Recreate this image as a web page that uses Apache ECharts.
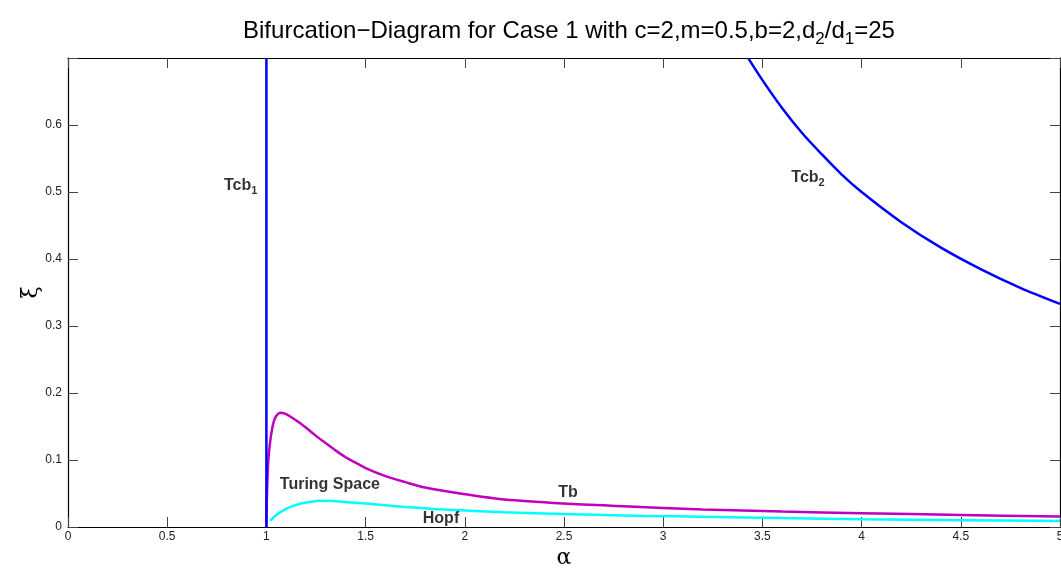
<!DOCTYPE html>
<html>
<head>
<meta charset="utf-8">
<script src="https://cdn.jsdelivr.net/npm/echarts@6/dist/echarts.min.js"></script>
<style>
  html, body { margin: 0; padding: 0; background: #fff; overflow: hidden; }
  #chart { width: 1061px; height: 572px; }
</style>
</head>
<body>
<div id="chart"></div>
<script>
// Tcb1: vertical Turing-codimension boundary at alpha = 1
const tcb1Alpha = [1.0, 1.0];
const tcb1Xi = [0.0, 0.7];

// Tcb2: upper boundary branch
const tcb2Alpha = [3.43, 3.5, 3.6, 3.7, 3.8, 3.9, 4.0, 4.2, 4.4, 4.6, 4.8, 5.0];
const tcb2Xi = [0.699, 0.667, 0.625, 0.588, 0.556, 0.526, 0.500, 0.455, 0.417, 0.385, 0.357, 0.333];

// Tb: Turing bifurcation curve
const tbAlpha = [1.0, 1.003, 1.01, 1.02, 1.035, 1.05, 1.07, 1.09, 1.12, 1.16, 1.2, 1.25, 1.3, 1.35, 1.4, 1.45, 1.5, 1.6, 1.7, 1.8, 2.0, 2.2, 2.5, 2.8, 3.2, 3.6, 4.0, 4.5, 5.0];
const tbXi = [0.0, 0.05, 0.10, 0.13, 0.155, 0.166, 0.1706, 0.1695, 0.165, 0.157, 0.148, 0.136, 0.125, 0.114, 0.104, 0.096, 0.088, 0.076, 0.067, 0.059, 0.049, 0.041, 0.035, 0.031, 0.0262, 0.023, 0.0205, 0.018, 0.0155];

// Hopf bifurcation curve
const hopfAlpha = [1.02, 1.05, 1.1, 1.15, 1.2, 1.27, 1.35, 1.5, 1.7, 1.9, 2.2, 2.5, 2.9, 3.2, 3.6, 4.0, 4.5, 5.0];
const hopfXi = [0.0095, 0.018, 0.027, 0.033, 0.0365, 0.039, 0.0385, 0.035, 0.030, 0.026, 0.022, 0.0195, 0.0165, 0.0154, 0.0133, 0.0115, 0.0102, 0.009];

// Curve annotations: [alpha, xi, text]
const annotations = [
  [0.87, 0.51, '{b|Tcb}{s|1}'],
  [3.73, 0.522, '{b|Tcb}{s|2}'],
  [1.32, 0.064, '{b|Turing Space}'],
  [2.52, 0.052, '{b|Tb}'],
  [1.88, 0.013, '{b|Hopf}']
];

// Axis ranges and tick spacing
const xMin = 0, xMax = 5, xStep = 0.5;
const yMin = 0, yMax = 0.7, yStep = 0.1;

const zip = (a, b) => a.map((v, i) => [v, b[i]]);
const FONT = '"Liberation Sans", Arial, Helvetica, sans-serif';

const chart = echarts.init(document.getElementById('chart'), null, { renderer: 'canvas' });

const tickStyle = { show: true, inside: true, length: 10, lineStyle: { color: '#444', width: 1 } };
const lineStyleAxis = { show: true, onZero: false, lineStyle: { color: '#000', width: 1.2 } };

chart.setOption({
  animation: false,
  backgroundColor: '#fff',
  title: {
    text: 'Bifurcation\u2212Diagram for Case 1 with c=2,m=0.5,b=2,d{s|2}/d{s|1}=25',
    left: 564,
    top: 10,
    textAlign: 'center',
    textStyle: {
      fontFamily: FONT,
      fontSize: 24,
      fontWeight: 'normal',
      color: '#000',
      rich: {
        s: { fontFamily: FONT, fontSize: 17, color: '#000', padding: [16, 0, 0, 0] }
      }
    }
  },
  grid: { left: 68, right: 1, top: 58, bottom: 45, containLabel: false, outerBoundsMode: 'none' },
  xAxis: [
    {
      type: 'value', min: xMin, max: xMax, interval: xStep,
      position: 'bottom',
      name: '\u03b1', nameLocation: 'middle', nameGap: 20, nameMoveOverlap: false,
      nameTextStyle: { fontFamily: 'DejaVu Serif, serif', fontSize: 22, color: '#000' },
      axisLine: lineStyleAxis,
      axisTick: tickStyle,
      splitLine: { show: false },
      axisLabel: { fontFamily: FONT, fontSize: 12, color: '#222', margin: 4 }
    },
    {
      type: 'value', min: xMin, max: xMax, interval: xStep,
      position: 'top',
      axisLine: lineStyleAxis,
      axisTick: tickStyle,
      splitLine: { show: false },
      axisLabel: { show: false }
    }
  ],
  yAxis: [
    {
      type: 'value', min: yMin, max: yMax, interval: yStep,
      position: 'left',
      name: '\u03be', nameLocation: 'middle', nameGap: 26, nameRotate: 90, nameMoveOverlap: false,
      nameTextStyle: { fontFamily: 'DejaVu Serif, serif', fontSize: 22, color: '#000' },
      axisLine: lineStyleAxis,
      axisTick: tickStyle,
      splitLine: { show: false },
      axisLabel: {
        fontFamily: FONT, fontSize: 12, color: '#222', margin: 6,
        formatter: v => (Math.abs(v - yMax) < 1e-9 ? '' : String(+v.toFixed(1)))
      }
    },
    {
      type: 'value', min: yMin, max: yMax, interval: yStep,
      position: 'right',
      axisLine: lineStyleAxis,
      axisTick: tickStyle,
      splitLine: { show: false },
      axisLabel: { show: false }
    }
  ],
  series: [
    {
      name: 'Tcb1', type: 'line', data: zip(tcb1Alpha, tcb1Xi),
      showSymbol: false, lineStyle: { color: '#0000ff', width: 2.5 }, z: 3
    },
    {
      name: 'Tcb2', type: 'line', data: zip(tcb2Alpha, tcb2Xi),
      smooth: 0.3,
      showSymbol: false, lineStyle: { color: '#0000ff', width: 2.5 }, z: 3
    },
    {
      name: 'Tb', type: 'line', data: zip(tbAlpha, tbXi),
      smooth: 0.3,
      showSymbol: false, lineStyle: { color: '#bf00bf', width: 2.5 }, z: 2
    },
    {
      name: 'Hopf', type: 'line', data: zip(hopfAlpha, hopfXi),
      smooth: 0.3,
      showSymbol: false, lineStyle: { color: '#00ffff', width: 2.5 }, z: 2
    },
    {
      name: 'labels', type: 'scatter', symbolSize: 0,
      data: annotations.map(a => ({ value: [a[0], a[1]], text: a[2] })),
      label: {
        show: true, position: 'inside',
        formatter: p => p.data.text,
        rich: {
          b: { fontFamily: FONT, fontSize: 16, fontWeight: 'bold', color: '#000' },
          s: { fontFamily: FONT, fontSize: 11, fontWeight: 'bold', color: '#000', padding: [11, 0, 0, 0] }
        }
      },
      z: 5
    }
  ]
});
</script>
</body>
</html>
